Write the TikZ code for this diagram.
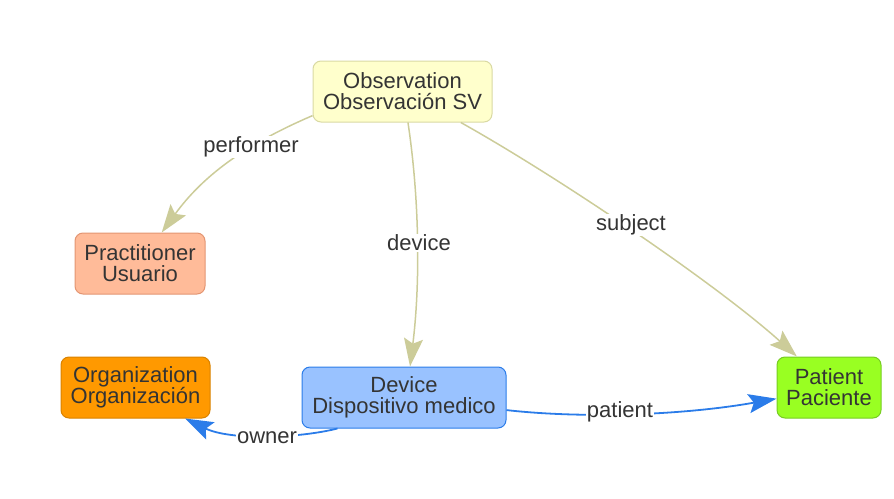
\documentclass[tikz,border=0pt]{standalone}
\usepackage{fontspec}
\setmainfont{Liberation Sans}
\usetikzlibrary{arrows.meta}
\definecolor{txt}{HTML}{343434}
\definecolor{khaki}{HTML}{CCCC99}
\definecolor{blueedge}{HTML}{2B7CE9}
\definecolor{obsfill}{HTML}{FFFFCC}
\definecolor{obsdraw}{HTML}{D9D9A3}
\definecolor{pracfill}{HTML}{FFBB99}
\definecolor{pracdraw}{HTML}{E39572}
\definecolor{orgfill}{HTML}{FF9900}
\definecolor{orgdraw}{HTML}{D98200}
\definecolor{devfill}{HTML}{99C2FF}
\definecolor{devdraw}{HTML}{2B7CE9}
\definecolor{patfill}{HTML}{99FF22}
\definecolor{patdraw}{HTML}{77CC22}
\begin{document}
\begin{tikzpicture}[x=1pt,y=-1pt,
  box/.style={draw, rounded corners=8pt, line width=1pt, align=center, text=txt,
    font=\fontsize{22}{21}\selectfont, inner sep=0pt, minimum height=61pt},
  lbl/.style={fill=white, inner sep=1pt, text=txt, font=\fontsize{22}{22}\selectfont},
  kedge/.style={draw=khaki, line width=1.5pt, -{Stealth[length=28pt,width=19pt,inset=5pt]}},
  bedge/.style={draw=blueedge, line width=1.8pt, -{Stealth[length=28pt,width=19pt,inset=5pt]}}]
\useasboundingbox (0,0) rectangle (894,498);

\node[box, fill=obsfill, draw=obsdraw, minimum width=179pt] (obs) at (402.5,91.5) {Observation\\Observación SV};
\node[box, fill=pracfill, draw=pracdraw, minimum width=130pt] (prac) at (140,263.5) {Practitioner\\Usuario};
\node[box, fill=orgfill, draw=orgdraw, minimum width=149pt] (org) at (135.5,387.5) {Organization\\Organización};
\node[box, fill=devfill, draw=devdraw, minimum width=204pt] (dev) at (404,397.5) {Device\\Dispositivo medico};
\node[box, fill=patfill, draw=patdraw, minimum width=104pt] (pat) at (829,387.5) {Patient\\Paciente};

\draw[kedge] (obs.195) .. controls +(-70,30) and +(40,-55) .. (prac.55);
\draw[kedge] (obs.280) .. controls +(12,80) and +(10,-80) .. (dev.79);
\draw[kedge] (obs.332) .. controls +(100,56) and +(-80,-72) .. (pat.136);
\draw[bedge] (dev.353) .. controls +(80,9) and +(-90,16) .. (pat.192);
\draw[bedge] (dev.205) .. controls +(-40,10) and +(45,22) .. (org.328);

\node[lbl] (lperf) at (251,147) {performer};
\node[lbl] (ldev) at (419,243) {device};
\node[lbl] (lsubj) at (631,225) {subject};
\node[lbl] (lpat) at (620,412) {patient};
\node[lbl] (lown) at (267,438) {owner};
\end{tikzpicture}
\end{document}
